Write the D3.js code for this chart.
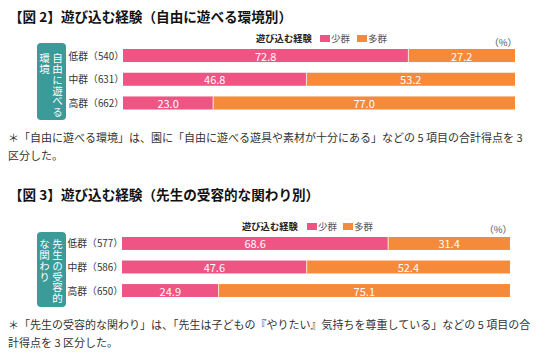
<!DOCTYPE html>
<html><head><meta charset="utf-8">
<script src="https://cdn.jsdelivr.net/npm/d3@7"></script>
<style>
body{margin:0;background:#fff}
text{font-family:"Noto Sans CJK JP","Noto Sans",sans-serif}
</style></head>
<body><svg id="c" width="550" height="357"></svg>
<script>
// ---- data ----
const seriesNames = ["少群", "多群"];
const legendTitle = "遊び込む経験";
const unitLabel = "（%）";

const title1 = "【図 2】遊び込む経験（自由に遊べる環境別）";
const groups1 = ["低群（540）", "中群（631）", "高群（662）"];
const low1 = [72.8, 46.8, 23.0];
const high1 = [27.2, 53.2, 77.0];
const side1 = ["自由に遊べる", "環境"];
const note1 = ["＊「自由に遊べる環境」は、園に「自由に遊べる遊具や素材が十分にある」などの 5 項目の合計得点を 3", "区分した。"];

const title2 = "【図 3】遊び込む経験（先生の受容的な関わり別）";
const groups2 = ["低群（577）", "中群（586）", "高群（650）"];
const low2 = [68.6, 47.6, 24.9];
const high2 = [31.4, 52.4, 75.1];
const side2 = ["先生の受容的", "な関わり"];
const note2 = ["＊「先生の受容的な関わり」は、「先生は子どもの『やりたい』気持ちを尊重している」などの 5 項目の合", "計得点を 3 区分した。"];

const colors = ["#ee5584", "#f58a3a"];
const teal = "#3a9b99";

const svg = d3.select("#c");

function drawPanel(cfg) {
  const g = svg.append("g");
  // title
  g.append("text").attr("x", cfg.titleX).attr("y", cfg.titleY)
    .attr("dominant-baseline", "central")
    .style("font-size", "13.6px").style("font-weight", "bold").attr("fill", "#111")
    .text(cfg.title);

  const x = d3.scaleLinear().domain([0, 100]).range([cfg.x0, cfg.x1]);
  const y = d3.scaleBand().domain(cfg.groups).range([cfg.y0, cfg.y1]).paddingInner(0.45).paddingOuter(0);

  const rows = cfg.groups.map((gname, i) => ({ g: gname, low: cfg.low[i], high: cfg.high[i] }));

  // bars
  const row = g.selectAll("g.row").data(rows).enter().append("g").attr("class", "row");
  row.append("rect").attr("x", x(0)).attr("y", d => y(d.g))
    .attr("width", d => x(d.low) - x(0)).attr("height", y.bandwidth()).attr("fill", colors[0]);
  row.append("rect").attr("x", d => x(d.low)).attr("y", d => y(d.g))
    .attr("width", d => x(d.low + d.high) - x(d.low)).attr("height", y.bandwidth()).attr("fill", colors[1]);
  row.append("line").attr("x1", d => x(d.low)).attr("x2", d => x(d.low))
    .attr("y1", d => y(d.g)).attr("y2", d => y(d.g) + y.bandwidth())
    .attr("stroke", "#fbe3d6").attr("stroke-width", 1);
  // value labels
  row.append("text").attr("x", d => (x(0) + x(d.low)) / 2).attr("y", d => y(d.g) + y.bandwidth() / 2)
    .attr("text-anchor", "middle").attr("dominant-baseline", "central")
    .style("font-size", "11px").attr("fill", "#fff").text(d => d.low.toFixed(1));
  row.append("text").attr("x", d => (x(d.low) + x(d.low + d.high)) / 2).attr("y", d => y(d.g) + y.bandwidth() / 2)
    .attr("text-anchor", "middle").attr("dominant-baseline", "central")
    .style("font-size", "11px").attr("fill", "#fff").text(d => d.high.toFixed(1));
  // row labels
  row.append("text").attr("x", cfg.x0 + 1).attr("y", d => y(d.g) + y.bandwidth() / 2)
    .attr("text-anchor", "end").attr("dominant-baseline", "central")
    .style("font-size", "9.8px").attr("fill", "#333").text(d => d.g);

  // side box
  g.append("rect").attr("x", 37).attr("y", cfg.boxY0).attr("width", 29).attr("height", cfg.boxY1 - cfg.boxY0)
    .attr("rx", 4).attr("fill", teal);
  cfg.side.forEach((s, ci) => {
    const cx = ci === 0 ? 57.5 : 44.5;
    g.append("text").attr("x", cx).attr("y", cfg.sideY)
      .style("writing-mode", "vertical-rl").style("text-orientation", "upright")
      .style("font-size", "10.5px").style("letter-spacing", "0.3px").attr("fill", "#fff").text(s);
  });

  // legend
  const lg = g.append("g").attr("transform", `translate(${cfg.legX},${cfg.legY})`);
  lg.append("text").attr("x", 0).attr("y", 0).attr("dominant-baseline", "central")
    .style("font-size", "9.3px").style("font-weight", "bold").attr("fill", "#222").text(legendTitle);
  seriesNames.forEach((n, i) => {
    const ox = cfg.legSw[i];
    lg.append("rect").attr("x", ox).attr("y", -3).attr("width", 10).attr("height", 7).attr("fill", colors[i]);
    lg.append("text").attr("x", ox + 11).attr("y", 0).attr("dominant-baseline", "central")
      .style("font-size", "9.5px").attr("fill", "#555").text(n);
  });
  g.append("text").attr("x", cfg.x1 + 2).attr("y", cfg.unitY).attr("text-anchor", "end").attr("dominant-baseline", "central")
    .style("font-size", "9.5px").attr("fill", "#555").text(unitLabel);

  // notes
  cfg.note.forEach((t, i) => {
    g.append("text").attr("x", cfg.noteX).attr("y", cfg.noteY + i * 18).attr("dominant-baseline", "central")
      .style("font-size", "11px").attr("fill", "#333").text(t);
  });
}

drawPanel({
  title: title1, titleX: 9, titleY: 16,
  groups: groups1, low: low1, high: high1,
  x0: 123, x1: 515, y0: 49, y1: 109.5,
  side: side1, boxY0: 43, boxY1: 120, sideY: 53,
  legX: 256, legY: 38, legSw: [64, 101], unitY: 42,
  note: note1, noteX: 8, noteY: 137
});
drawPanel({
  title: title2, titleX: 9, titleY: 194,
  groups: groups2, low: low2, high: high2,
  x0: 122, x1: 510, y0: 237, y1: 297,
  side: side2, boxY0: 232, boxY1: 307, sideY: 239,
  legX: 242, legY: 226, legSw: [65, 101], unitY: 229,
  note: note2, noteX: 8, noteY: 324
});
</script>
</body></html>
